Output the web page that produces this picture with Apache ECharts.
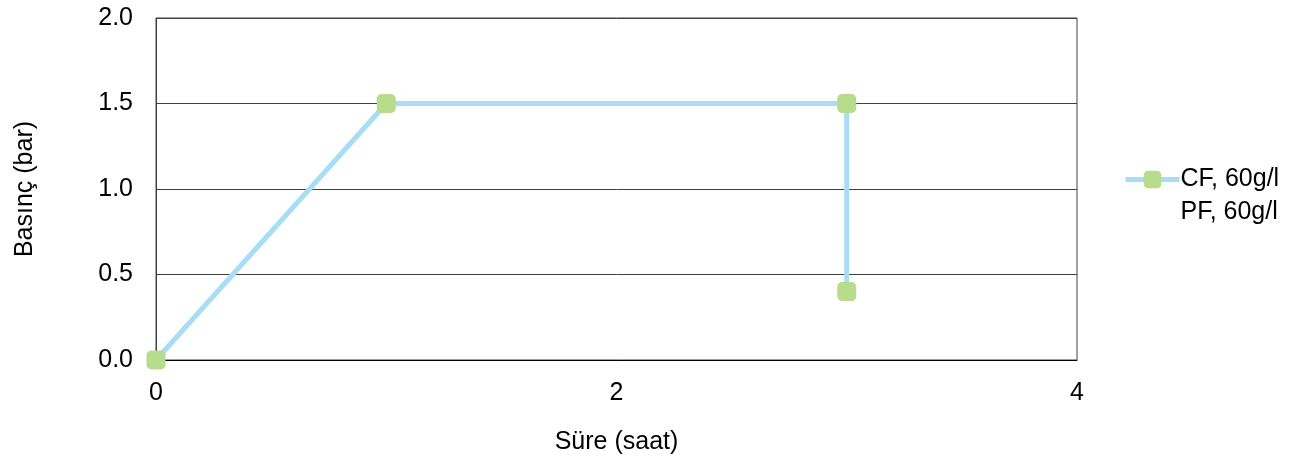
<!DOCTYPE html>
<html><head><meta charset="utf-8">
<script src="https://cdn.jsdelivr.net/npm/echarts@6/dist/echarts.min.js"></script>
<style>html,body{margin:0;padding:0;background:#fff}#c{width:1306px;height:459px}</style>
</head><body><div id="c"></div>
<script>
const seriesNames = ['CF, 60g/l', 'PF, 60g/l'];
const cfX = [0, 1, 3, 3];
const cfY = [0, 1.5, 1.5, 0.4];
const pfX = [];
const pfY = [];
const xTicks = [0, 2, 4];
const yTicks = [0, 0.5, 1.0, 1.5, 2.0];

const chart = echarts.init(document.getElementById('c'));
const font = 'Liberation Sans, Arial, sans-serif';
const fs = 25;
chart.setOption({
  animation: false,
  grid: {left: 156, top: 18, width: 921, height: 342, show: true, borderColor: '#404040', borderWidth: 1,
    containLabel: false, outerBoundsMode: 'none'},
  xAxis: {
    type: 'value', min: 0, max: 4, interval: 2,
    name: 'Süre (saat)', nameLocation: 'middle', nameGap: 70,
    nameTextStyle: {fontSize: fs, color: '#000', fontFamily: font},
    axisLine: {show: true, lineStyle: {color: '#000', width: 1}},
    axisTick: {show: false},
    splitLine: {show: false},
    axisLabel: {fontSize: fs, color: '#000', fontFamily: font, margin: 21,
      formatter: v => xTicks.includes(v) ? String(v) : ''}
  },
  yAxis: {
    type: 'value', min: 0, max: 2, interval: 0.5,
    name: 'Basınç (bar)', nameLocation: 'middle', nameGap: 118, nameRotate: 90,
    nameTextStyle: {fontSize: fs, color: '#000', fontFamily: font},
    axisLine: {show: true, lineStyle: {color: '#404040', width: 1}},
    axisTick: {show: false},
    splitLine: {show: true, lineStyle: {color: '#404040', width: 1}},
    axisLabel: {fontSize: fs, color: '#000', fontFamily: font, margin: 23,
      formatter: v => yTicks.includes(v) ? v.toFixed(1) : ''}
  },
  legend: {
    orient: 'vertical', left: 1118, top: 162,
    itemWidth: 54, itemHeight: 22, itemGap: 8,
    textStyle: {fontSize: fs, color: '#000', fontFamily: font, padding: [0, 0, 0, -4]},
    data: [
      {name: seriesNames[0], lineStyle: {width: 5, color: '#A8DDF5'}},
      {name: seriesNames[1], icon: 'rect', itemStyle: {opacity: 0}, lineStyle: {opacity: 0}}
    ]
  },
  series: [
    {
      name: seriesNames[0], type: 'line',
      data: cfX.map((x, i) => [x, cfY[i]]),
      symbol: 'roundRect', symbolSize: 19,
      lineStyle: {color: '#A8DDF5', width: 5},
      itemStyle: {color: '#B6DC8C', borderWidth: 0},
      z: 3
    },
    {
      name: seriesNames[1], type: 'line',
      data: pfX.map((x, i) => [x, pfY[i]]),
      symbol: 'none', lineStyle: {opacity: 0}, itemStyle: {opacity: 0}
    }
  ]
});
</script></body></html>
